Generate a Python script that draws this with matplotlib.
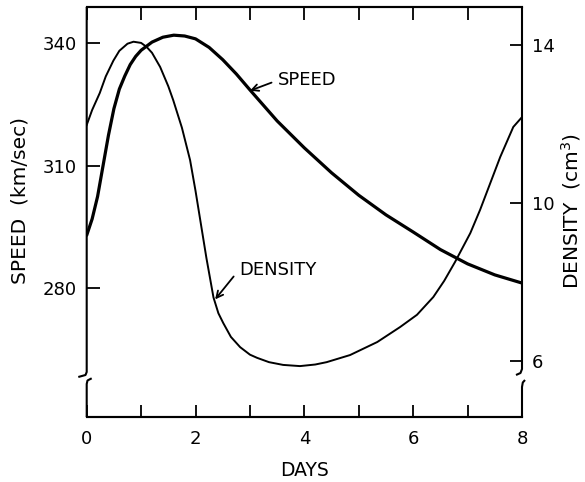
import matplotlib
matplotlib.use('Agg')
import matplotlib.pyplot as plt
from matplotlib.lines import Line2D

# ---- data ----
speed_days = [0, 0.1, 0.2, 0.3, 0.4, 0.5, 0.6, 0.7, 0.8, 0.9, 1.0, 1.2, 1.4, 1.6,
              1.8, 2.0, 2.25, 2.5, 2.75, 3.0, 3.5, 4.0, 4.5, 5.0, 5.5, 6.0, 6.5,
              7.0, 7.5, 8.0]
speed_vals = [293.0, 297.0, 302.5, 310.0, 317.5, 324.0, 328.8, 332.0, 334.8, 336.8,
              338.3, 340.3, 341.5, 342.0, 341.8, 341.1, 339.0, 336.0, 332.5, 328.6,
              321.0, 314.4, 308.3, 302.8, 298.0, 293.8, 289.5, 286.0, 283.3, 281.3]

density_days = [0, 0.1, 0.24, 0.35, 0.49, 0.6, 0.75, 0.86, 1.0, 1.1, 1.2, 1.35, 1.5,
                1.59, 1.75, 1.9, 2.0, 2.1, 2.2, 2.33, 2.42, 2.51, 2.65, 2.82, 3.0,
                3.13, 3.35, 3.61, 3.92, 4.2, 4.41, 4.84, 5.34, 5.76, 6.07, 6.37,
                6.57, 6.77, 7.05, 7.23, 7.6, 7.84, 8.0]
density_vals = [11.97, 12.35, 12.78, 13.2, 13.6, 13.85, 14.03, 14.08, 14.05, 13.95,
                13.8, 13.44, 12.95, 12.6, 11.9, 11.08, 10.3, 9.45, 8.6, 7.6, 7.2,
                6.95, 6.6, 6.34, 6.15, 6.07, 5.96, 5.89, 5.86, 5.9, 5.96, 6.14,
                6.47, 6.85, 7.16, 7.61, 8.02, 8.5, 9.23, 9.82, 11.16, 11.92, 12.17]

x_ticks = list(range(9))
x_ticklabels = ['0', '', '2', '', '4', '', '6', '', '8']
speed_ticks = [280, 310, 340]
density_ticks = [6, 10, 14]

plt.rcParams['font.family'] = ['DejaVu Sans']

W, H = 585, 482
fig = plt.figure(figsize=(W / 100, H / 100), dpi=100)
L, R, T, B = 86.7, 522.0, 7.0, 417.0
ax = fig.add_axes([L / W, 1 - B / H, (R - L) / W, (B - T) / H])
ax2 = ax.twinx()

ax.plot(speed_days, speed_vals, color='black', lw=2.3, solid_capstyle='round',
        solid_joinstyle='round')
ax2.plot(density_days, density_vals, color='black', lw=1.4, solid_joinstyle='round')

ax.set_xlim(0, 8)
ax.set_ylim(248.5, 348.9)
ax2.set_ylim(4.57, 14.96)

for a in (ax, ax2):
    for s in ('left', 'right'):
        a.spines[s].set_visible(False)
    for s in ('top', 'bottom'):
        a.spines[s].set_linewidth(1.5)

ax.set_xticks(x_ticks)
ax.set_xticklabels(x_ticklabels, fontsize=13)
ax.tick_params(axis='x', direction='in', length=9, width=1.3, top=True,
               bottom=True, pad=9.5)
ax.set_yticks(speed_ticks)
ax.set_yticklabels([str(v) for v in speed_ticks], fontsize=13)
ax.tick_params(axis='y', direction='in', length=9, width=1.3, left=True,
               right=False, pad=7)
ax2.set_yticks(density_ticks)
ax2.set_yticklabels([str(v) for v in density_ticks], fontsize=13)
ax2.tick_params(axis='y', direction='in', length=9, width=1.3, right=True,
                left=False, pad=7)

# custom vertical axes with break marks
aw, ah = R - L, B - T
def fx(px):
    return (px - L) / aw
def fy(py):
    return (B - py) / ah

kw = dict(color='black', lw=1.5, transform=ax.transAxes, clip_on=False,
          solid_capstyle='butt')
ax.add_line(Line2D([0, 0, fx(85.5), fx(78.3)], [1, fy(372), fy(375), fy(377)], **kw))
ax.add_line(Line2D([fx(91.7), fx(87.5), 0, 0], [fy(378.3), fy(380.5), fy(384), 0], **kw))
ax.add_line(Line2D([1, 1, fx(520.5), fx(516)], [1, fy(369), fy(373), fy(375)], **kw))
ax.add_line(Line2D([fx(525), fx(522.8), 1, 1], [fy(380), fy(382.5), fy(387), 0], **kw))

fig.text(20 / W, 1 - 200 / H, 'SPEED  (km/sec)', rotation=90, ha='center',
         va='center', fontsize=14.5)
fig.text(571 / W, 1 - 211 / H, 'DENSITY  (cm$^3$)', rotation=90, ha='center',
         va='center', fontsize=14.5)
fig.text(304 / W, 1 - 470.5 / H, 'DAYS', ha='center', va='center', fontsize=13.5)

ax.annotate('SPEED', xy=(3.0, 328.4), xytext=(3.52, 331.0), ha='left',
            va='center', fontsize=13,
            arrowprops=dict(arrowstyle='->', color='black', lw=1.3,
                            shrinkA=3, shrinkB=0, mutation_scale=12,
                            relpos=(0, 0.5)))
ax2.annotate('DENSITY', xy=(2.36, 7.55), xytext=(2.8, 8.3), ha='left',
             va='center', fontsize=13,
             arrowprops=dict(arrowstyle='->', color='black', lw=1.3,
                             shrinkA=3, shrinkB=0, mutation_scale=12,
                             relpos=(0, 0.5)))

fig.savefig('out.png', dpi=100)
